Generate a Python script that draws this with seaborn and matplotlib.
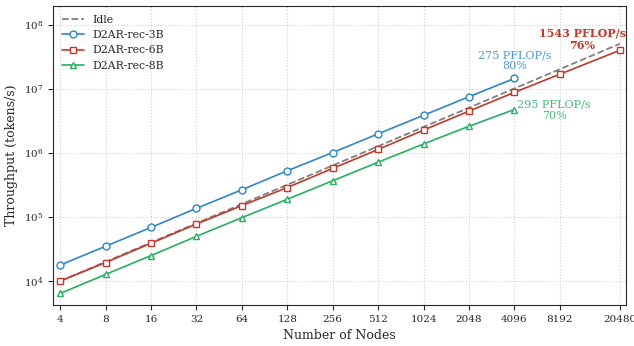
import numpy as np
import pandas as pd
import seaborn as sns
import matplotlib.pyplot as plt

# node counts on the x axis
nodes = [4, 8, 16, 32, 64, 128, 256, 512, 1024, 2048, 4096, 8192, 20480]
node_labels = [str(n) for n in nodes]

# throughput in tokens/s
idle = [1.0e4, 2.0e4, 4.0e4, 8.0e4, 1.6e5, 3.2e5, 6.4e5, 1.28e6, 2.56e6,
        5.12e6, 1.024e7, 2.048e7, 5.12e7]
rec_3b = [1.78e4, 3.5e4, 6.9e4, 1.37e5, 2.67e5, 5.3e5, 1.02e6, 2.0e6,
          3.9e6, 7.6e6, 1.47e7]
rec_6b = [1.0e4, 1.95e4, 3.9e4, 7.8e4, 1.51e5, 2.9e5, 5.77e5, 1.14e6,
          2.29e6, 4.53e6, 8.9e6, 1.71e7, 4.05e7]
rec_8b = [6.4e3, 1.27e4, 2.5e4, 5.0e4, 9.8e4, 1.9e5, 3.7e5, 7.2e5,
          1.39e6, 2.63e6, 4.8e6]

blue = '#2e86c4'
red = '#c0392b'
green = '#27ae60'

sns.set_style('ticks')
plt.rcParams['font.family'] = ['DejaVu Serif']

fig, ax = plt.subplots(figsize=(6.34, 3.46), dpi=100)
fig.subplots_adjust(left=0.084, right=0.987, top=0.983, bottom=0.118)

df_idle = pd.DataFrame({'nodes': nodes, 'tput': idle})
sns.lineplot(data=df_idle, x='nodes', y='tput', ax=ax, color='gray',
             linestyle='--', linewidth=1.3, label='Idle')

series = [('D2AR-rec-3B', rec_3b, blue, 'o'),
          ('D2AR-rec-6B', rec_6b, red, 's'),
          ('D2AR-rec-8B', rec_8b, green, '^')]
for name, vals, col, mk in series:
    d = pd.DataFrame({'nodes': nodes[:len(vals)], 'tput': vals})
    sns.lineplot(data=d, x='nodes', y='tput', ax=ax, color=col, marker=mk,
                 markersize=5, markerfacecolor='white', markeredgecolor=col,
                 markeredgewidth=1.0, linewidth=1.2, label=name)

ax.set_xscale('log', base=2)
ax.set_yscale('log')
ax.set_xticks(nodes)
ax.set_xticklabels(node_labels)
ax.minorticks_off()
ax.set_xlim(3.6, 22400)
ax.set_ylim(4200, 2.0e8)
ax.tick_params(labelsize=7.5)
ax.set_xlabel('Number of Nodes', fontsize=9)
ax.set_ylabel('Throughput (tokens/s)', fontsize=9)
ax.grid(True, linestyle=':', color='#d0d0d0', linewidth=0.8)

# efficiency annotations
ax.text(4096, 1.9e7, '275 PFLOP/s\n80%', color=blue, alpha=0.85,
        fontsize=8, ha='center', va='bottom', linespacing=1.15)
ax.text(11500, 3.9e7, '1543 PFLOP/s\n76%', color=red, fontsize=8,
        fontweight='bold', ha='center', va='bottom', linespacing=1.15)
ax.text(7500, 3.2e6, '295 PFLOP/s\n70%', color=green, alpha=0.85,
        fontsize=8, ha='center', va='bottom', linespacing=1.15)

leg = ax.legend(loc='upper left', fontsize=7.8, frameon=False,
                handlelength=2.0, borderaxespad=0.4)

plt.savefig('out.png', dpi=100)
